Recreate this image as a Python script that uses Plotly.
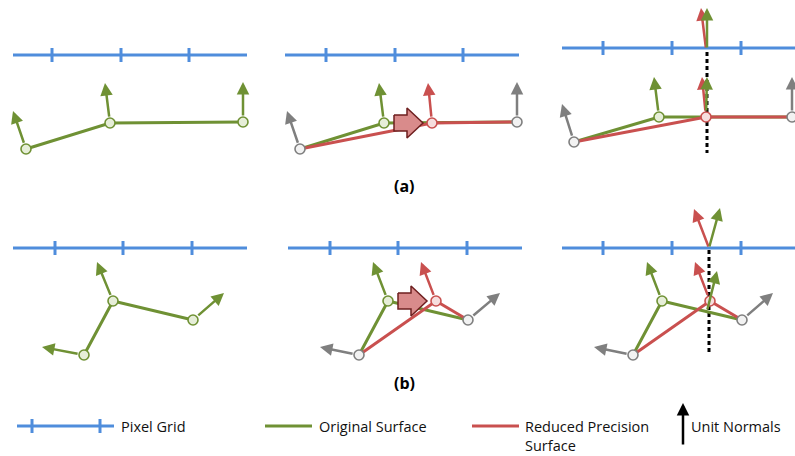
import plotly.graph_objects as go

W, H = 795, 456

# ---------------- data (pixel-space diagram coordinates) ----------------
grid_y = [55, 55, 48, 248, 248, 248]
grid_x0 = [13, 285, 562, 13, 288, 562]
grid_x1 = [247, 519, 795, 247, 522, 795]
grid_ticks = [[52, 121, 189], [326, 395, 463], [603, 672, 741],
              [55, 123, 192], [330, 398, 467], [603, 672, 741]]

orig_surfaces = [
    [(26, 149), (110, 123), (243, 122)],
    [(300, 149), (384, 123), (517, 122)],
    [(574, 142), (659, 117), (792, 117)],
    [(84, 355), (113, 301), (193, 320)],
    [(359, 355), (388, 301), (468, 320)],
    [(633, 355), (662, 301), (742, 320)],
]
reduced_surfaces = [
    [(300, 149), (432, 123), (517, 122)],
    [(574, 142), (706, 117), (792, 117)],
    [(359, 355), (436, 301), (468, 320)],
    [(633, 355), (710, 301), (742, 320)],
]
green_nodes = [(26, 149), (110, 123), (243, 122), (384, 123), (659, 117),
               (113, 301), (84, 355), (193, 320), (388, 301), (662, 301)]
red_nodes = [(432, 123), (706, 117), (436, 301), (710, 301)]
gray_nodes = [(300, 149), (517, 122), (574, 142), (792, 117),
              (359, 355), (468, 320), (633, 355), (742, 320)]

# normals: (x0, y0, x1, y1, kind, starts at node?)
normals = [
    (26, 149, 13, 111, "g", 1), (110, 123, 105, 83, "g", 1), (243, 122, 243, 82, "g", 1),
    (300, 149, 287, 111, "k", 1), (384, 123, 379, 83, "g", 1), (432, 123, 428, 83, "r", 1),
    (517, 122, 517, 82, "k", 1),
    (574, 142, 562, 104, "k", 1), (659, 117, 654, 77, "g", 1), (706, 117, 702, 77, "r", 1),
    (706, 117, 707, 77, "g", 1), (792, 117, 792, 77, "k", 1),
    (706, 49, 701, 8, "r", 0), (707, 49, 707, 8, "g", 0),
    (113, 301, 97, 262, "g", 1), (84, 355, 42, 347, "g", 1), (193, 320, 224, 293, "g", 1),
    (388, 301, 373, 262, "g", 1), (436, 301, 421, 262, "r", 1),
    (359, 355, 320, 347, "k", 1), (468, 320, 500, 293, "k", 1),
    (662, 301, 647, 262, "g", 1), (710, 301, 695, 262, "r", 1),
    (633, 355, 594, 347, "k", 1), (742, 320, 773, 293, "k", 1),
    (707, 311, 717, 271, "g", 0),
    (709, 248, 694, 209, "r", 0), (709, 248, 720, 208, "g", 0),
]
dashed_lines = [(707, 52, 153), (709, 250, 352)]
block_arrows = [(394, 423, 123), (398, 427, 301)]  # x_start, x_tip, y_center
panel_labels = ["(a)", "(b)"]
panel_label_pos = [(404, 186), (404, 383)]

legend_labels = ["Pixel Grid", "Original Surface", "Reduced Precision<br>Surface", "Unit Normals"]

# ---------------- styles ----------------
BLUE = "#4f8ddc"
GREEN = "#6f9134"
RED = "#c9504f"
GRAY = "#7f7f7f"
COL = {"g": GREEN, "r": RED, "k": GRAY}
FONT = "Open Sans"

fig = go.Figure()

# pixel grids
for y, x0, x1, ticks in zip(grid_y, grid_x0, grid_x1, grid_ticks):
    fig.add_trace(go.Scatter(x=[x0, x1], y=[y, y], mode="lines",
                             line=dict(color=BLUE, width=3), hoverinfo="skip"))
    tx, ty = [], []
    for t in ticks:
        tx += [t, t, None]
        ty += [y - 7, y + 7, None]
    fig.add_trace(go.Scatter(x=tx, y=ty, mode="lines",
                             line=dict(color=BLUE, width=3), hoverinfo="skip"))

# dashed lines
for x, y0, y1 in dashed_lines:
    fig.add_trace(go.Scatter(x=[x, x], y=[y0, y1], mode="lines",
                             line=dict(color="black", width=3, dash="4px,3px"), hoverinfo="skip"))

# surfaces
for s in orig_surfaces:
    fig.add_trace(go.Scatter(x=[p[0] for p in s], y=[p[1] for p in s], mode="lines",
                             line=dict(color=GREEN, width=3), hoverinfo="skip"))
for s in reduced_surfaces:
    fig.add_trace(go.Scatter(x=[p[0] for p in s], y=[p[1] for p in s], mode="lines",
                             line=dict(color=RED, width=3), hoverinfo="skip"))

# block arrows
for xs, xt, yc in block_arrows:
    xb = xs + 13
    px = [xs, xb, xb, xt, xb, xb, xs, xs]
    py = [yc - 8, yc - 8, yc - 15, yc, yc + 15, yc + 8, yc + 8, yc - 8]
    fig.add_trace(go.Scatter(x=px, y=py, mode="lines", fill="toself",
                             fillcolor="#d98b8b", line=dict(color="#6e1f1f", width=1.5),
                             hoverinfo="skip"))

# nodes
for nodes, fc, lc in [(green_nodes, "#e6eed8", GREEN), (red_nodes, "#f6dede", RED),
                      (gray_nodes, "#f2f2f2", GRAY)]:
    fig.add_trace(go.Scatter(x=[p[0] for p in nodes], y=[p[1] for p in nodes], mode="markers",
                             marker=dict(size=10, color=fc, line=dict(color=lc, width=1.6)),
                             hoverinfo="skip"))

annotations = []
for x0, y0, x1, y1, k, nd in normals:
    annotations.append(dict(x=x1, y=y1, ax=x0, ay=y0, xref="x", yref="y", axref="x", ayref="y",
                            text="", showarrow=True, arrowhead=2, arrowsize=1.0, arrowwidth=2.5,
                            arrowcolor=COL[k], startstandoff=5 if nd else 0))

for lab, (x, y) in zip(panel_labels, panel_label_pos):
    annotations.append(dict(x=x, y=y, xref="x", yref="y", text="<b>%s</b>" % lab, showarrow=False,
                            font=dict(family=FONT, size=16, color="black")))

# legend
leg_y = 426
fig.add_trace(go.Scatter(x=[17, 114], y=[leg_y, leg_y], mode="lines",
                         line=dict(color=BLUE, width=3), hoverinfo="skip"))
fig.add_trace(go.Scatter(x=[32, 32, None, 100, 100], y=[leg_y - 7, leg_y + 7, None, leg_y - 7, leg_y + 7],
                         mode="lines", line=dict(color=BLUE, width=3), hoverinfo="skip"))
fig.add_trace(go.Scatter(x=[265, 312], y=[leg_y, leg_y], mode="lines",
                         line=dict(color=GREEN, width=3), hoverinfo="skip"))
fig.add_trace(go.Scatter(x=[472, 519], y=[leg_y, leg_y], mode="lines",
                         line=dict(color=RED, width=3), hoverinfo="skip"))
annotations.append(dict(x=683, y=403, ax=683, ay=446, xref="x", yref="y", axref="x", ayref="y",
                        text="", showarrow=True, arrowhead=2, arrowsize=1.0, arrowwidth=2.5,
                        arrowcolor="black"))
for lab, x, y in zip(legend_labels, [119, 317, 523, 689], [leg_y, leg_y, leg_y + 10, leg_y]):
    annotations.append(dict(x=x, y=y, xref="x", yref="y", text=lab, showarrow=False,
                            xanchor="left", yanchor="middle", align="left",
                            font=dict(family=FONT, size=14.5, color="#111111")))

fig.update_layout(
    width=W, height=H, margin=dict(l=0, r=0, t=0, b=0),
    paper_bgcolor="white", plot_bgcolor="white", showlegend=False,
    xaxis=dict(range=[0, W], visible=False, fixedrange=True),
    yaxis=dict(range=[H, 0], visible=False, fixedrange=True),
    annotations=annotations,
)

fig.write_html("out.html")
